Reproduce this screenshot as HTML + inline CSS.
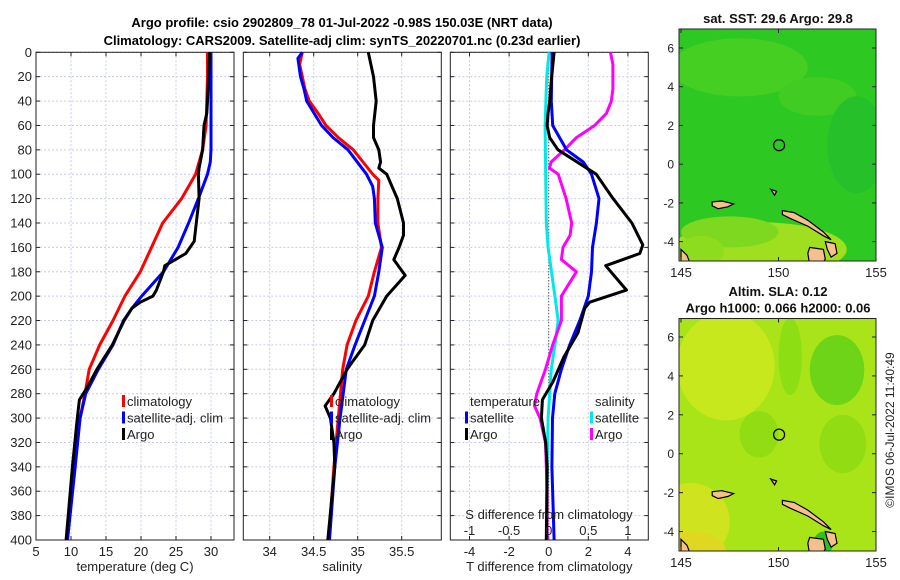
<!DOCTYPE html>
<html><head><meta charset="utf-8">
<style>
body{margin:0;background:#fff;}
svg{display:block;font-family:"Liberation Sans","DejaVu Sans",sans-serif;}
</style></head>
<body>
<svg id="c" width="900" height="580" viewBox="0 0 900 580" xmlns="http://www.w3.org/2000/svg">
<text x="342" y="27" text-anchor="middle" font-size="13" font-weight="bold">Argo profile: csio 2902809_78 01-Jul-2022 -0.98S 150.03E (NRT data)</text>
<text x="342" y="45" text-anchor="middle" font-size="13" font-weight="bold">Climatology: CARS2009. Satellite-adj clim: synTS_20220701.nc (0.23d earlier)</text>
<g id="p1"></g>
<g id="p2"></g>
<g id="p3"></g>
<g id="m1"></g>
<g id="m2"></g>
<text transform="translate(894,430) rotate(-90)" text-anchor="middle" font-size="12" fill="#222">©IMOS 06-Jul-2022 11:40:49</text>
</svg>
<script>
// ---- data ----
const depthTicks=[0,20,40,60,80,100,120,140,160,180,200,220,240,260,280,300,320,340,360,380,400];
const tempTicks=[5,10,15,20,25,30];
const salTicks=[34,34.5,35,35.5];
const tdiffTicks=[-4,-2,0,2,4];
const sdiffTicks=[-1,-0.5,0,0.5,1];
const climTD=[0,20,40,60,80,100,120,140,160,180,200,220,240,260,280,300,340,380,400];
const climT=[29.5,29.5,29.4,29.3,28.8,27.8,25.8,23.1,21.5,19.9,17.7,16.0,14.1,12.6,12.0,11.3,10.3,9.8,9.4];
const satTD=[0,20,60,80,90,100,120,140,160,180,200,210,220,240,260,280,300,340,400];
const satT=[30.0,30.0,30.0,30.0,29.9,29.5,28.2,26.8,25.3,23.2,20.1,18.7,17.5,16.0,13.9,12.1,11.3,10.6,9.5];
const argoTD=[0,40,50,60,80,95,100,120,140,155,165,175,180,195,200,205,210,220,240,260,275,285,300,340,400];
const argoT=[29.8,29.5,29.4,29.0,28.8,28.3,28.2,28.3,27.9,27.6,26.4,23.4,23.2,22.2,21.7,19.9,18.7,17.6,15.9,13.7,12.3,11.2,10.9,10.2,9.3];
const climSD=[0,10,20,30,40,50,60,70,80,90,100,105,120,140,160,180,200,220,240,260,300,340,400];
const climS=[34.37,34.34,34.37,34.40,34.45,34.55,34.64,34.78,34.95,35.06,35.17,35.24,35.23,35.23,35.27,35.19,35.12,34.98,34.88,34.83,34.78,34.73,34.67];
const satSD=[0,5,20,30,40,60,70,80,100,110,120,140,160,180,200,220,240,260,300,340,400];
const satS=[34.37,34.32,34.35,34.39,34.42,34.59,34.72,34.89,35.10,35.17,35.19,35.20,35.28,35.24,35.19,35.08,34.97,34.87,34.80,34.74,34.68];
const argoSD=[0,20,40,60,70,80,90,95,100,120,140,150,160,170,183,200,220,240,260,280,290,300,320,340,400];
const argoS=[35.12,35.18,35.21,35.18,35.18,35.24,35.26,35.24,35.33,35.45,35.52,35.52,35.47,35.41,35.54,35.33,35.17,35.08,34.88,34.73,34.63,34.69,34.73,34.74,34.66];
const dTsatD=[0,40,60,70,80,90,100,120,140,160,180,200,220,240,260,280,300,340,400];
const dTsat=[0.17,0.13,0.2,0.55,0.9,1.74,2.16,2.54,2.41,2.21,2.16,2.0,1.57,1.06,0.64,0.31,0.19,0.16,0.27];
const dTargoD=[0,20,40,50,60,70,80,100,120,140,158,165,175,195,205,210,230,250,270,285,300,320,340,400];
const dTargo=[0.27,0.15,0.05,-0.03,-0.08,0.05,0.47,2.4,3.25,4.2,4.75,4.6,2.88,3.93,2.07,1.82,1.48,0.76,0.22,-0.32,-0.37,-0.15,-0.08,-0.12];
const dSsatD=[0,20,60,100,140,160,200,220,240,260,300,340,400];
const dSsat=[0.005,-0.025,-0.045,-0.038,-0.03,-0.008,0.078,0.12,0.078,0.033,-0.008,-0.02,-0.02];
const dSargoD=[0,10,30,40,50,60,70,80,90,95,100,120,140,150,160,170,180,200,220,240,260,280,290,300,320,360,400];
const dSargo=[0.78,0.81,0.81,0.79,0.73,0.58,0.35,0.2,0.03,0.01,0.12,0.22,0.29,0.27,0.18,0.16,0.35,0.16,0.16,0.05,-0.04,-0.15,-0.18,-0.11,-0.04,-0.02,-0.02];

const NS='http://www.w3.org/2000/svg';
function mk(tag,attrs,parent,text){const e=document.createElementNS(NS,tag);for(const k in attrs)e.setAttribute(k,attrs[k]);if(text!==undefined)e.textContent=text;parent.appendChild(e);return e;}
const TOP=52.3,BOT=540;
function yD(d){return TOP+(BOT-TOP)*d/400;}

function panel(g,x0,x1,vmin,vmax,ticks,showDepth,xlabel){
  const xs=v=>x0+(x1-x0)*(v-vmin)/(vmax-vmin);
  for(const t of ticks){const l=mk('line',{x1:xs(t),x2:xs(t),y1:TOP,y2:BOT,stroke:'#c8cce8','stroke-width':1,'stroke-dasharray':'2,2'},g);
    }
  for(const d of depthTicks){const l=mk('line',{x1:x0,x2:x1,y1:yD(d),y2:yD(d),stroke:'#c8cce8','stroke-width':1,'stroke-dasharray':'2,2'},g);
    
    mk('line',{x1:x0,x2:x0+4,y1:yD(d),y2:yD(d),stroke:'#222'},g);mk('line',{x1:x1-4,x2:x1,y1:yD(d),y2:yD(d),stroke:'#222'},g);
    if(showDepth){const t=mk('text',{x:x0-4,y:yD(d)+4.5,'text-anchor':'end','font-size':13,fill:'#222'},g,String(d));
      }}
  for(const t of ticks){mk('line',{x1:xs(t),x2:xs(t),y1:BOT,y2:BOT-4,stroke:'#222'},g);mk('line',{x1:xs(t),x2:xs(t),y1:TOP,y2:TOP+4,stroke:'#222'},g);}
  const r=mk('rect',{x:x0,y:TOP,width:x1-x0,height:BOT-TOP,fill:'none',stroke:'#222','stroke-width':1},g);
  
  if(xlabel){const t=mk('text',{x:(x0+x1)/2,y:571,'text-anchor':'middle','font-size':13,fill:'#222'},g,xlabel);
    }
  return xs;
}
function tickLabels(g,xs,ticks,y){for(const t of ticks){const e=mk('text',{x:xs(t),y:y,'text-anchor':'middle','font-size':13,fill:'#222'},g,String(t));
  }}
function line(g,xs,vals,deps,color,name,w){
  const pts=vals.map((v,i)=>xs(v).toFixed(1)+','+yD(deps[i]).toFixed(1)).join(' ');
  const p=mk('polyline',{points:pts,fill:'none',stroke:color,'stroke-width':w||3,'stroke-linejoin':'round'},g);
  }
function legend(g,x,y,items){items.forEach((it,i)=>{
  mk('rect',{x:x,y:y+i*16.5-11,width:3,height:12,fill:it[1]},g);
  const t=mk('text',{x:x+5,y:y+i*16.5,'font-size':13,fill:'#222'},g,it[0]);
  });}

// panel 1
const g1=document.getElementById('p1');
const xT=panel(g1,36,234,5,5+198/7,tempTicks,true,'temperature (deg C)');
tickLabels(g1,xT,tempTicks,556);
line(g1,xT,climT,climTD,'#f00','climatology-line');
line(g1,xT,satT,satTD,'#00f','satellite-line');
line(g1,xT,argoT,argoTD,'#000','argo-line');
legend(g1,122,406,[['climatology','#f00'],['satellite-adj. clim','#00f'],['Argo','#000']]);
// panel 2
const g2=document.getElementById('p2');
const xS=panel(g2,243.3,441.3,33.7,33.7+198/88,salTicks,false,'salinity');
tickLabels(g2,xS,salTicks,556);
line(g2,xS,climS,climSD,'#f00','climatology-line');
line(g2,xS,satS,satSD,'#00f','satellite-line');
line(g2,xS,argoS,argoSD,'#000','argo-line');
legend(g2,330,406,[['climatology','#f00'],['satellite-adj. clim','#00f'],['Argo','#000']]);
// panel 3
const g3=document.getElementById('p3');
const xD=panel(g3,450.3,648.3,-4.97,5.03,tdiffTicks,false,'T difference from climatology');
const xSd=v=>xD(v*4);
tickLabels(g3,xD,tdiffTicks,556);
mk('line',{x1:xD(0),x2:xD(0),y1:TOP,y2:BOT,stroke:'#333','stroke-width':1,'stroke-dasharray':'1,2'},g3);
line(g3,xSd,dSsat,dSsatD,'#00e8e8','salinity-satellite-line');
line(g3,xSd,dSargo,dSargoD,'#f0f','salinity-argo-line');
line(g3,xD,dTsat,dTsatD,'#00f','temperature-satellite-line');
line(g3,xD,dTargo,dTargoD,'#000','temperature-argo-line');
{const t=mk('text',{x:549,y:519,'text-anchor':'middle','font-size':13,fill:'#222'},g3,'S difference from climatology');}
for(const s of sdiffTicks){const e=mk('text',{x:xSd(s),y:535,'text-anchor':'middle','font-size':13,fill:'#222'},g3,String(s));}
{const t=mk('text',{x:470,y:406,'font-size':13,fill:'#222'},g3,'temperature');
 const u=mk('text',{x:595,y:406,'font-size':13,fill:'#222'},g3,'salinity');}
legend(g3,465,422.5,[['satellite','#00f'],['Argo','#000']]);
legend(g3,590,422.5,[['satellite','#00e8e8'],['Argo','#f0f']]);

// maps
const lonTicks=[145,150,155], latTicks=[-4,-2,0,2,4,6];
function map(g,y0,y1,latMax,latMin,title,base,patches){
  const X=lon=>681+(lon-145)*19.5, Y=lat=>y0+(latMax-lat)*(y1-y0)/(latMax-latMin);
  const id='cl'+Math.round(y0);
  const cp=mk('clipPath',{id:id},g);mk('rect',{x:679,y:y0,width:197,height:y1-y0},cp);
  const inner=mk('g',{'clip-path':'url(#'+id+')'},g);
  mk('rect',{x:679,y:y0,width:197,height:y1-y0,fill:base},inner);
  for(const p of patches){const e=mk('ellipse',{cx:X(p[0]),cy:Y(p[1]),rx:p[2]*19.5,ry:p[3]*19.4,fill:p[4]},inner);}
  const land=[[[150.2,-2.4],[150.8,-2.5],[151.5,-2.9],[152.3,-3.5],[152.7,-3.9],[152.3,-3.7],[151.5,-3.2],[150.6,-2.8],[150.2,-2.6]],
    [[152.4,-4.0],[152.9,-4.1],[153.0,-4.6],[152.7,-4.8],[152.5,-4.4]],
    [[151.6,-4.3],[152.3,-4.4],[152.4,-4.9],[152.2,-5.2],[151.6,-5.2],[151.5,-4.6]],
    [[146.6,-1.95],[147.1,-1.9],[147.7,-2.05],[147.4,-2.2],[146.9,-2.3],[146.6,-2.15]],
    [[149.6,-1.3],[149.9,-1.4],[149.8,-1.6]],
    [[145,-4.4],[145.3,-4.7],[145.5,-5.2],[145,-5.2]]];
  for(const l of land){const e=mk('polygon',{points:l.map(p=>X(p[0]).toFixed(1)+','+Y(p[1]).toFixed(1)).join(' '),fill:'#f6c08e',stroke:'#000','stroke-width':1.2},inner);
    }
  const c=mk('circle',{cx:X(150.03),cy:Y(0.98),r:5.5,fill:'none',stroke:'#000','stroke-width':1.3},g);
  
  mk('rect',{x:679,y:y0,width:197,height:y1-y0,fill:'none',stroke:'#222'},g);
  for(const l of latTicks){mk('line',{x1:679,x2:683,y1:Y(l),y2:Y(l),stroke:'#222'},g);mk('line',{x1:872,x2:876,y1:Y(l),y2:Y(l),stroke:'#222'},g);
    const t=mk('text',{x:674,y:Y(l)+4.5,'text-anchor':'end','font-size':12,fill:'#222'},g,String(l));}
  for(const l of lonTicks){mk('line',{x1:X(l),x2:X(l),y1:y1,y2:y1-4,stroke:'#222'},g);mk('line',{x1:X(l),x2:X(l),y1:y0,y2:y0+4,stroke:'#222'},g);
    const t=mk('text',{x:X(l),y:y1+16,'text-anchor':'middle','font-size':13,fill:'#222'},g,String(l));}
  title.forEach((s,i)=>{const t=mk('text',{x:778,y:y0-6-(title.length-1-i)*16.5,'text-anchor':'middle','font-size':13,'font-weight':'bold',fill:'#111'},g,s);});
}
map(document.getElementById('m1'),29,261,6.98,-5.0,['sat. SST: 29.6 Argo: 29.8'],'#2ec822',
  [[148,5,3.5,1.5,'#45cf22'],[152,3.5,2,1,'#40cc22'],[154,1,1.5,2.5,'#26c12a'],[149,-4.4,4.5,1.4,'#9fdf1f'],[147.5,-3.5,2.5,0.8,'#7fd820'],[146,-4.5,1.2,0.8,'#8edc1e']]);
map(document.getElementById('m2'),318.5,551,6.95,-5.0,['Altim. SLA: 0.12','Argo h1000: 0.066 h2000: 0.06'],'#a8e418',
  [[147.3,4.5,2.5,2.8,'#c6e81c'],[145.5,-3.5,2,2,'#cfe41e'],[145.5,-5,1.8,1,'#e0d820'],[153,4.3,1.4,1.8,'#6ed418'],[150.6,5,0.6,2,'#8ede14'],[149,1,1,1.2,'#92dc14'],[153.3,0.5,1.2,1.5,'#92dc14'],[152.3,-4.6,0.5,0.6,'#30c020']]);
</script>
</body></html>
